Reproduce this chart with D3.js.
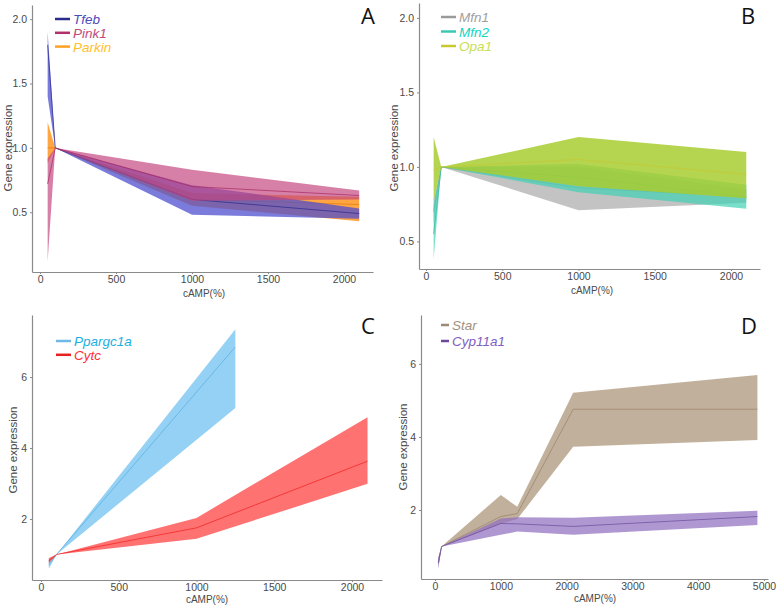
<!DOCTYPE html>
<html><head><meta charset="utf-8">
<script src="https://cdn.jsdelivr.net/npm/d3@7"></script>
<style>
body{margin:0;background:#fff;}
text{font-family:"Liberation Sans",Arial,sans-serif;}
</style></head>
<body><svg id="c" width="778" height="609"></svg>
<script>
// ---------- Panel A ----------
const xA = [50, 100, 1000, 2100];
const tfebMean = [1.80, 1.0, 0.60, 0.49];
const tfebLo   = [1.40, 1.0, 0.48, 0.45];
const tfebHi   = [1.90, 1.0, 0.71, 0.53];
const pink1Mean = [0.72, 1.0, 0.70, 0.63];
const pink1Lo   = [0.12, 1.0, 0.59, 0.60];
const pink1Hi   = [0.92, 1.0, 0.83, 0.67];
const parkinMean = [1.00, 1.0, 0.60, 0.56];
const parkinLo   = [0.88, 1.0, 0.55, 0.43];
const parkinHi   = [1.20, 1.0, 0.65, 0.62];
const xTicksA = [0, 500, 1000, 1500, 2000];
const yTicksA = [0.5, 1.0, 1.5, 2.0];

// ---------- Panel B ----------
const xB = [50, 100, 1000, 2100];
const mfn1Mean = [0.70, 1.0, 0.86, 0.80];
const mfn1Lo   = [0.62, 1.0, 0.71, 0.76];
const mfn1Hi   = [0.78, 1.0, 1.00, 0.85];
const mfn2Mean = [0.55, 1.0, 0.93, 0.80];
const mfn2Lo   = [0.38, 1.0, 0.83, 0.72];
const mfn2Hi   = [0.75, 1.0, 1.02, 0.88];
const opa1Mean = [0.98, 1.0, 1.05, 0.95];
const opa1Lo   = [0.77, 1.0, 0.87, 0.79];
const opa1Hi   = [1.20, 1.0, 1.20, 1.10];
const xTicksB = [0, 500, 1000, 1500, 2000];
const yTicksB = [0.5, 1.0, 1.5, 2.0];

// ---------- Panel C ----------
const xPpar = [50, 100, 1250];
const pparMean = [0.70, 1.0, 6.85];
const pparLo   = [0.60, 1.0, 5.13];
const pparHi   = [0.85, 1.0, 7.35];
const xCytc = [50, 100, 1000, 2100];
const cytcMean = [0.82, 1.0, 1.75, 3.63];
const cytcLo   = [0.75, 1.0, 1.44, 2.99];
const cytcHi   = [0.90, 1.0, 2.03, 4.87];
const xTicksC = [0, 500, 1000, 1500, 2000];
const yTicksC = [2, 4, 6];

// ---------- Panel D ----------
const xD = [50, 100, 1000, 1250, 2100, 4900];
const starMean = [0.55, 1.0, 1.82, 1.90, 4.76, 4.76];
const starLo   = [0.40, 1.0, 1.62, 1.75, 3.73, 3.92];
const starHi   = [0.70, 1.0, 2.41, 2.09, 5.21, 5.70];
const cypMean = [0.55, 1.0, 1.63, 1.62, 1.55, 1.82];
const cypLo   = [0.40, 1.0, 1.32, 1.41, 1.32, 1.59];
const cypHi   = [0.70, 1.0, 1.77, 1.80, 1.79, 1.98];
const xTicksD = [0, 1000, 2000, 3000, 4000, 5000];
const yTicksD = [2, 4, 6];

const xLabel = "cAMP(%)";
const yLabel = "Gene expression";

const svg = d3.select("#c");

function series(name, xs, mean, lo, hi, fill, line, legLine, legText, opacity, order) {
  return {name, pts: xs.map((x, i) => ({x, m: mean[i], lo: lo[i], hi: hi[i]})), fill, line, legLine, legText, opacity, order};
}

function panel(cfg) {
  const g = svg.append("g");
  const x = d3.scaleLinear().domain(cfg.xDom).range(cfg.xRange);
  const y = d3.scaleLinear().domain(cfg.yDom).range(cfg.yRange);
  const drawOrder = cfg.series.slice().sort((a, b) => a.order - b.order);
  drawOrder.forEach(s => {
    g.append("path").datum(s.pts)
      .attr("d", d3.area().x(d => x(d.x)).y0(d => y(d.lo)).y1(d => y(d.hi)))
      .attr("fill", s.fill).attr("fill-opacity", s.opacity).attr("stroke", "none");
    g.append("path").datum(s.pts)
      .attr("d", d3.line().x(d => x(d.x)).y(d => y(d.m)))
      .attr("fill", "none").attr("stroke", s.line).attr("stroke-width", 1).attr("stroke-opacity", 0.7);
  });
  const xa = g.append("g").attr("transform", `translate(0,${cfg.yRange[0]})`)
    .call(d3.axisBottom(x).tickValues(cfg.xTicks).tickFormat(d3.format("d")).tickSize(2).tickPadding(2).tickSizeOuter(0));
  const ya = g.append("g").attr("transform", `translate(${cfg.xRange[0]},0)`)
    .call(d3.axisLeft(y).tickValues(cfg.yTicks).tickFormat(cfg.yFmt).tickSize(2).tickPadding(3).tickSizeOuter(0));
  [xa, ya].forEach(a => {
    a.select(".domain").attr("stroke", "#8a8a8a").attr("stroke-width", 1.2);
    a.selectAll(".tick line").attr("stroke", "#8a8a8a");
    a.selectAll(".tick text").attr("fill", "#4a4a4a").style("font-size", "10.5px");
  });
  g.append("text").attr("x", cfg.xLabPos[0]).attr("y", cfg.xLabPos[1])
    .attr("text-anchor", "middle").attr("fill", "#4a4a4a").style("font-size", "10px").text(xLabel);
  g.append("text").attr("transform", `translate(${cfg.yLabPos[0]},${cfg.yLabPos[1]}) rotate(-90)`)
    .attr("text-anchor", "middle").attr("fill", "#4a4a4a").style("font-size", "11.5px").text(yLabel);
  cfg.series.forEach((s, i) => {
    const ly = cfg.leg.y + i * cfg.leg.dy;
    g.append("line").attr("x1", cfg.leg.x).attr("x2", cfg.leg.x + cfg.leg.len)
      .attr("y1", ly).attr("y2", ly).attr("stroke", s.legLine).attr("stroke-width", 2.5);
    g.append("text").attr("x", cfg.leg.x + cfg.leg.len + 3).attr("y", ly + 5)
      .attr("fill", s.legText).style("font-size", "13.5px").style("font-style", "italic").text(s.name);
  });
  g.append("text").attr("x", cfg.letterPos[0]).attr("y", cfg.letterPos[1])
    .attr("fill", "#111").style("font-family", "'Open Sans',sans-serif").style("font-size", "22px").text(cfg.letter);
}

const f1 = d3.format(".1f");

panel({
  xDom: [-53, 2191], xRange: [32, 373], yDom: [0.036, 2.11], yRange: [272, 5],
  xTicks: xTicksA, yTicks: yTicksA, yFmt: f1,
  xLabPos: [204, 297], yLabPos: [12, 148],
  leg: {x: 55, y: 19, dy: 13.8, len: 15},
  letter: "A", letterPos: [361, 24],
  series: [
    series("Tfeb", xA, tfebMean, tfebLo, tfebHi, "#4f4fd0", "#2a2a8c", "#2b2b8c", "#4b4bbd", 0.75, 1),
    series("Pink1", xA, pink1Mean, pink1Lo, pink1Hi, "#c2447f", "#a8285f", "#b0306a", "#c04a78", 0.68, 2),
    series("Parkin", xA, parkinMean, parkinLo, parkinHi, "#ff9520", "#e07a10", "#ffa020", "#ffc02a", 0.85, 0)
  ]
});

panel({
  xDom: [-46, 2190], xRange: [419, 760], yDom: [0.315, 2.10], yRange: [269, 3],
  xTicks: xTicksB, yTicks: yTicksB, yFmt: f1,
  xLabPos: [592, 294], yLabPos: [398, 148],
  leg: {x: 441, y: 17, dy: 14.5, len: 15},
  letter: "B", letterPos: [741, 24],
  series: [
    series("Mfn1", xB, mfn1Mean, mfn1Lo, mfn1Hi, "#b8b8b8", "#999999", "#9a9a9a", "#a0a0a0", 0.85, 0),
    series("Mfn2", xB, mfn2Mean, mfn2Lo, mfn2Hi, "#40d0b4", "#30b8a0", "#3cc8b0", "#14d4c0", 0.7, 1),
    series("Opa1", xB, opa1Mean, opa1Lo, opa1Hi, "#a8cc30", "#c8c830", "#c8c830", "#c8e050", 0.85, 2)
  ]
});

panel({
  xDom: [-58, 2193], xRange: [32, 382], yDom: [0.28, 7.75], yRange: [580, 315],
  xTicks: xTicksC, yTicks: yTicksC, yFmt: d3.format("d"),
  xLabPos: [207, 603], yLabPos: [17, 450],
  leg: {x: 56, y: 341, dy: 13.8, len: 15},
  letter: "C", letterPos: [361, 334],
  series: [
    series("Ppargc1a", xPpar, pparMean, pparLo, pparHi, "#5ab8ee", "#5aaee0", "#70b8e8", "#20b0e0", 0.65, 0),
    series("Cytc", xCytc, cytcMean, cytcLo, cytcHi, "#ff3c3c", "#f02020", "#e82020", "#ff3030", 0.72, 1)
  ]
});

panel({
  xDom: [-213, 5061], xRange: [421, 768], yDom: [0.11, 7.34], yRange: [579, 315],
  xTicks: xTicksD, yTicks: yTicksD, yFmt: d3.format("d"),
  xLabPos: [595, 602], yLabPos: [407, 447],
  leg: {x: 441, y: 325, dy: 16, len: 8},
  letter: "D", letterPos: [741, 334],
  series: [
    series("Star", xD, starMean, starLo, starHi, "#b09a80", "#9a8068", "#9a8a78", "#a09080", 0.78, 0),
    series("Cyp11a1", xD, cypMean, cypLo, cypHi, "#9070c0", "#6a4a9a", "#6a4a9a", "#8060c0", 0.72, 1)
  ]
});
</script></body></html>
